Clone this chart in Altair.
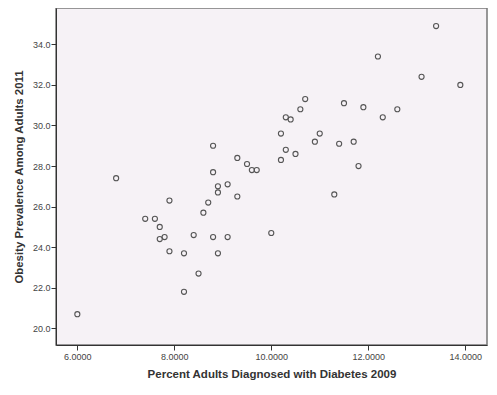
import altair as alt
import pandas as pd

diabetes_2009 = [6.0, 6.8, 7.4, 7.6, 7.7, 7.7, 7.8, 7.9, 7.9, 8.2, 8.2, 8.4, 8.5, 8.6, 8.7,
                 8.8, 8.9, 9.1, 8.8, 8.8, 8.9, 8.9, 9.1, 9.3, 9.3, 9.5, 9.6, 9.7, 10.0,
                 10.2, 10.2, 10.3, 10.4, 10.3, 10.5, 10.6, 10.7, 10.9, 11.0, 11.3, 11.4,
                 11.5, 11.7, 11.8, 11.9, 12.2, 12.3, 12.6, 13.1, 13.4, 13.9]
obesity_2011 = [20.7, 27.4, 25.4, 25.4, 25.0, 24.4, 24.5, 26.3, 23.8, 23.7, 21.8, 24.6, 22.7, 25.7, 26.2,
                24.5, 23.7, 24.5, 29.0, 27.7, 27.0, 26.7, 27.1, 28.4, 26.5, 28.1, 27.8, 27.8, 24.7,
                29.6, 28.3, 30.4, 30.3, 28.8, 28.6, 30.8, 31.3, 29.2, 29.6, 26.6, 29.1,
                31.1, 29.2, 28.0, 30.9, 33.4, 30.4, 30.8, 32.4, 34.9, 32.0]

x_ticks = [6, 8, 10, 12, 14]
y_ticks = [20, 22, 24, 26, 28, 30, 32, 34]

df = pd.DataFrame({"d": diabetes_2009, "o": obesity_2011})

W, H = 431, 337

chart = alt.Chart(df).mark_point(
    shape="circle", filled=False, size=26, stroke="#555555", strokeWidth=1.1, opacity=1
).encode(
    x=alt.X("d:Q", scale=alt.Scale(domain=[5.56, 14.45], nice=False, zero=False),
            axis=alt.Axis(values=x_ticks, format=".4f", title="Percent Adults Diagnosed with Diabetes 2009",
                          grid=False, tickSize=5, labelPadding=2, labelFontSize=9,
                          labelColor="#444444", tickColor="#333333", domainColor="#333333",
                          titleFontSize=11.5, titleFontWeight="bold", titleColor="#333333",
                          titleFont="Liberation Sans", labelFont="Liberation Sans",
                          titleY=29, titleBaseline="middle", labelFlush=False)),
    y=alt.Y("o:Q", scale=alt.Scale(domain=[19.18, 35.79], nice=False, zero=False),
            axis=alt.Axis(values=y_ticks, format=".1f", title="Obesity Prevalence Among Adults 2011",
                          grid=False, tickSize=5, labelPadding=1, labelFontSize=9,
                          labelColor="#444444", tickColor="#333333", domainColor="#333333",
                          titleFontSize=11.4, titleFontWeight="bold", titleColor="#333333",
                          titleFont="Liberation Sans", labelFont="Liberation Sans",
                          titleX=-37, titleBaseline="middle", labelFlush=False)),
).properties(
    width=W, height=H,
    autosize=alt.AutoSizeParams(type="none"),
    padding={"left": 48, "top": 0, "right": 2, "bottom": 42},
    background="white",
).configure_view(
    fill="#F6F2F6", stroke="#777777", strokeWidth=1.5
)

chart.save("out.html", embed_options={"renderer": "svg", "actions": False})
